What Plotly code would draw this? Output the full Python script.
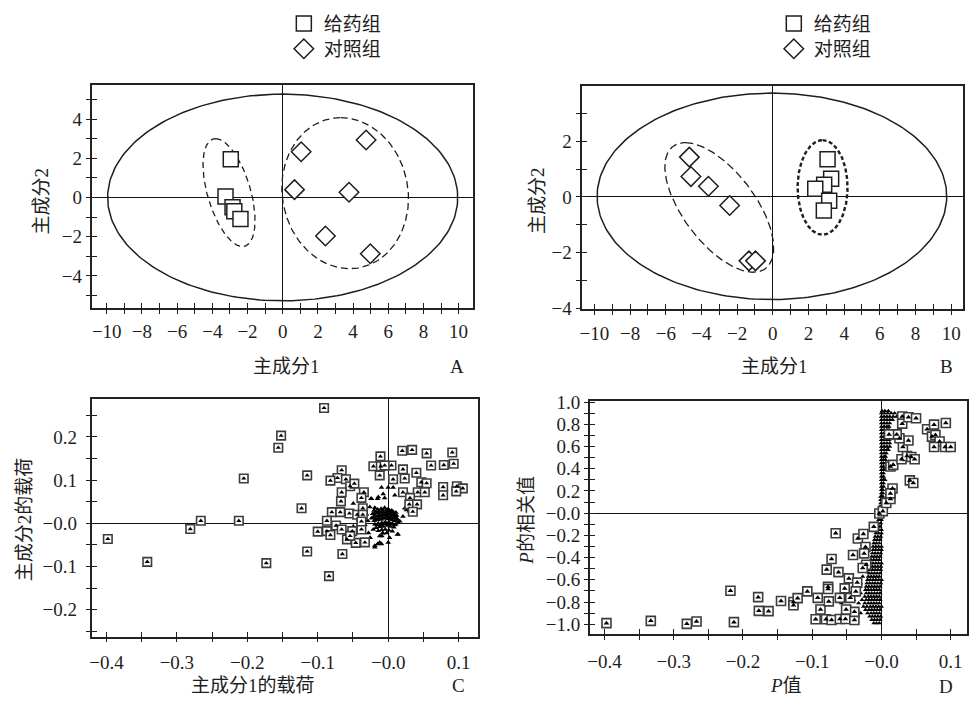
import numpy as np
import plotly.graph_objects as go

W, H = 969, 705
FONT = "Liberation Serif, Noto Sans CJK SC, serif"
INK = "#1e1e1e"

# ---------------- Panel A data ----------------
a_drug_x = [-3.25, -2.95, -2.85, -2.75, -2.40]
a_drug_y = [0.05, 1.95, -0.50, -0.70, -1.10]
a_ctrl_x = [1.05, 4.74, 0.67, 3.77, 2.43, 4.98]
a_ctrl_y = [2.33, 2.93, 0.40, 0.27, -1.96, -2.87]
# ellipses: x = cx + xc*cos t + xs*sin t ; y = cy + yc*cos t
a_ell_cx = [0.0, -3.05, 3.55]
a_ell_cy = [0.0, 0.25, 0.22]
a_ell_xc = [0.0, -0.76, -0.25]
a_ell_xs = [9.95, 1.27, 3.59]
a_ell_yc = [5.27, 2.75, 3.85]

# ---------------- Panel B data ----------------
b_drug_x = [3.07, 3.27, 2.88, 2.38, 3.16, 2.86]
b_drug_y = [1.35, 0.65, 0.44, 0.29, -0.14, -0.49]
b_ctrl_x = [-4.68, -4.59, -3.61, -2.42, -1.34, -0.97]
b_ctrl_y = [1.43, 0.73, 0.38, -0.31, -2.30, -2.30]
b_ell_cx = [-0.05, -3.00, 2.79]
b_ell_cy = [0.02, -0.38, 0.34]
b_ell_xc = [0.0, -1.91, 0.0]
b_ell_xs = [9.80, 2.38, 1.40]
b_ell_yc = [3.71, 2.33, 1.70]

# ---------------- Panel C data ----------------
c_box_x = [-0.398, -0.342, -0.281, -0.266, -0.212, -0.205, -0.152, -0.156, -0.173, -0.091,
           -0.115, -0.123, -0.115, -0.084, -0.065,
           -0.066, -0.072, -0.082, -0.060, -0.054, -0.048, -0.066, -0.067, -0.0345, -0.038,
           -0.080, -0.068, -0.055, -0.044, -0.036, -0.036, -0.087, -0.074, -0.100, -0.087,
           -0.082, -0.066, -0.051, -0.038, -0.0585, -0.046, -0.033, -0.054, -0.038,
           -0.011, -0.021, -0.0105, 0.0047, -0.005, -0.012, 0.007, 0.021, 0.034, 0.020,
           0.0235, 0.040, 0.0546, 0.061, 0.091, 0.079, 0.093, 0.021, 0.047, 0.0546,
           0.042, 0.052, 0.031, 0.030, 0.041, 0.035, 0.078, 0.078, 0.0975, 0.106, 0.0966]
c_box_y = [-0.036, -0.089, -0.013, 0.006, 0.006, 0.104, 0.203, 0.175, -0.092, 0.267,
           0.111, 0.035, -0.065, -0.122, -0.071,
           0.123, 0.105, 0.099, 0.102, 0.086, 0.092, 0.072, 0.051, 0.072, 0.059,
           0.026, 0.026, 0.023, 0.020, 0.035, 0.020, 0.006, -0.005, -0.019, -0.018,
           -0.027, -0.014, -0.018, -0.014, -0.037, -0.045, -0.044, -0.029, 0.0045,
           0.155, 0.132, 0.132, 0.134, 0.134, 0.111, 0.102, 0.125, 0.170, 0.168,
           0.104, 0.117, 0.162, 0.134, 0.164, 0.135, 0.138, 0.072, 0.095, 0.093,
           0.072, 0.072, 0.059, 0.044, 0.044, 0.027, 0.084, 0.065, 0.086, 0.081, 0.074]
c_tri_x = [-0.0095, 0.0, 0.0071, -0.0236, -0.015, -0.005, 0.0094, -0.0071, -0.026, -0.019,
           -0.0307, -0.0377, -0.042, -0.0236, -0.033, -0.0212, -0.028, -0.012, -0.0075, 0.002,
           0.014, -0.019, -0.015, -0.012, 0.0, 0.028, 0.0235, 0.030, 0.021, 0.0165,
           0.028, -0.0495, -0.052, -0.0246, -0.014, -0.019, -0.0095, 0.0132, -0.0415, -0.029,
           -0.0495, -0.0255, 0.026, 0.040, -0.009,
           -0.020, -0.015, -0.010, -0.005, 0.000, 0.005,
           -0.022, -0.017, -0.012, -0.007, -0.002, 0.003, 0.008, 0.012,
           -0.021, -0.016, -0.011, -0.006, -0.001, 0.004, 0.009, 0.013,
           -0.020, -0.015, -0.010, -0.005, 0.000, 0.005, 0.010, 0.014,
           -0.019, -0.014, -0.009, -0.004, 0.001, 0.006, 0.011,
           -0.017, -0.012, -0.007, -0.002, 0.003, 0.008,
           -0.014, -0.009, -0.004, 0.001, 0.006, -0.008, -0.002,
           -0.018, -0.013, -0.008, -0.003, 0.002, 0.007, 0.011,
           -0.0175, -0.0125, -0.0075, -0.0025, 0.0025, 0.0075, 0.012,
           -0.016, -0.011, -0.006, -0.001, 0.004, 0.009,
           -0.019, -0.013, -0.008, -0.003, 0.002, 0.007, 0.010]
c_tri_y = [0.083, 0.083, 0.083, 0.057, 0.057, 0.059, 0.065, 0.068, 0.038, 0.036,
           0.021, 0.027, 0.008, 0.012, -0.003, -0.014, -0.022, -0.029, -0.022, -0.033,
           -0.025, -0.052, -0.048, -0.044, -0.044, 0.053, 0.035, 0.028, 0.016, 0.005,
           0.068, 0.046, 0.0196, 0.057, 0.061, -0.055, -0.048, -0.0255, 0.0135, 0.006,
           -0.007, -0.033, 0.031, 0.072, -0.029,
           0.030, 0.032, 0.034, 0.036, 0.033, 0.030,
           0.022, 0.024, 0.025, 0.027, 0.026, 0.024, 0.022, 0.018,
           0.014, 0.016, 0.017, 0.019, 0.018, 0.016, 0.014, 0.010,
           0.006, 0.008, 0.009, 0.011, 0.010, 0.008, 0.006, 0.002,
           -0.002, 0.000, 0.001, 0.003, 0.002, 0.000, -0.002,
           -0.010, -0.008, -0.007, -0.005, -0.007, -0.009,
           -0.017, -0.015, -0.014, -0.016, -0.018, -0.023, -0.022,
           0.026, 0.028, 0.030, 0.031, 0.029, 0.027, 0.025,
           0.010, 0.012, 0.013, 0.014, 0.013, 0.011, 0.009,
           -0.004, -0.003, -0.001, -0.001, -0.002, -0.004,
           0.018, 0.020, 0.021, 0.022, 0.021, 0.019, 0.016]

# ---------------- Panel D data ----------------
d_box_x = [-0.397, -0.333, -0.281, -0.267, -0.218, -0.213, -0.178, -0.177, -0.163, -0.145,
           -0.127, -0.127, -0.121, -0.107, -0.092, -0.095, -0.088, -0.080, -0.072, -0.060,
           -0.052, -0.039, -0.039, -0.051, -0.077, -0.077, -0.076, -0.060, -0.079, -0.062,
           -0.072, -0.066, -0.053, -0.047, -0.045, -0.035, -0.037, -0.041, -0.034, -0.026,
           -0.023, -0.025, -0.022, -0.027, -0.011, -0.003,
           0.002, 0.007, 0.013, 0.016, 0.013, 0.013, 0.017, 0.029, 0.037, 0.043,
           0.048, 0.031, 0.039, 0.026, 0.022, 0.011, 0.030, 0.030, 0.039, 0.050,
           0.041, 0.046, 0.066, 0.076, 0.073, 0.078, 0.084, 0.076, 0.092, 0.100, 0.093]
d_box_y = [-0.990, -0.969, -0.996, -0.975, -0.698, -0.981, -0.756, -0.879, -0.882, -0.791,
           -0.800, -0.829, -0.765, -0.704, -0.762, -0.955, -0.867, -0.955, -0.961, -0.952,
           -0.952, -0.961, -0.888, -0.867, -0.663, -0.683, -0.794, -0.762, -0.508, -0.531,
           -0.412, -0.181, -0.677, -0.587, -0.762, -0.625, -0.704, -0.377, -0.228, -0.187,
           -0.304, -0.362, -0.464, -0.493, -0.123, -0.003,
           0.018, 0.091, 0.128, 0.222, 0.178, 0.420, 0.435, 0.485, 0.514, 0.505,
           0.485, 0.596, 0.654, 0.674, 0.709, 0.709, 0.870, 0.806, 0.864, 0.855,
           0.295, 0.272, 0.756, 0.797, 0.689, 0.704, 0.645, 0.596, 0.596, 0.596, 0.812]
# dense band of small triangles: (P correlation value, [P values])
d_band_rows = [
    (0.92, [0.001, 0.005, 0.010]),
    (0.90, [0.0, 0.004, 0.009, 0.014, 0.019]),
    (0.87, [0.0, 0.004, 0.008, 0.012, 0.017, 0.022]),
    (0.84, [0.0, 0.004, 0.008, 0.012, 0.016]),
    (0.81, [0.0, 0.004, 0.008, 0.012]),
    (0.78, [0.0, 0.004, 0.008, 0.011]),
    (0.75, [0.0, 0.004, 0.008, 0.011]),
    (0.72, [0.0, 0.004, 0.008, 0.010]),
    (0.69, [0.0, 0.004, 0.008]),
    (0.66, [0.0, 0.004, 0.008, 0.011]),
    (0.63, [0.0, 0.004, 0.008, 0.012]),
    (0.60, [0.0, 0.004, 0.008, 0.012]),
    (0.57, [0.0, 0.004, 0.008, 0.010]),
    (0.54, [0.0, 0.004, 0.007]),
    (0.51, [0.0, 0.004, 0.006]),
    (0.48, [0.0, 0.003, 0.006]),
    (0.45, [0.0, 0.003, 0.006]),
    (0.42, [0.0, 0.003]),
    (0.39, [0.0, 0.003, 0.005]),
    (0.36, [0.0, 0.003]),
    (0.33, [0.0, 0.003]),
    (0.30, [0.0, 0.003, 0.005]),
    (0.27, [0.0, 0.003]),
    (0.24, [0.0, 0.003]),
    (0.21, [0.0, 0.002]),
    (0.18, [0.0, 0.002]),
    (0.15, [-0.001, 0.002]),
    (0.12, [-0.001, 0.002]),
    (0.09, [-0.001, 0.002]),
    (0.06, [-0.002, 0.001]),
    (0.03, [-0.002, 0.001]),
    (0.00, [-0.003, 0.0]),
    (-0.03, [-0.003, 0.0]),
    (-0.06, [-0.004, 0.0]),
    (-0.09, [-0.005, -0.001]),
    (-0.12, [-0.006, -0.002]),
    (-0.15, [-0.008, -0.004, 0.0]),
    (-0.18, [-0.008, -0.004, 0.0]),
    (-0.21, [-0.009, -0.005, -0.001]),
    (-0.24, [-0.010, -0.006, -0.002]),
    (-0.27, [-0.011, -0.007, -0.003]),
    (-0.30, [-0.012, -0.008, -0.004, 0.0]),
    (-0.33, [-0.012, -0.008, -0.004, 0.0]),
    (-0.36, [-0.013, -0.009, -0.005, -0.001]),
    (-0.39, [-0.014, -0.010, -0.006, -0.002]),
    (-0.42, [-0.015, -0.011, -0.007, -0.003]),
    (-0.45, [-0.016, -0.012, -0.008, -0.004, 0.0]),
    (-0.48, [-0.017, -0.013, -0.009, -0.005, -0.001]),
    (-0.51, [-0.024, -0.017, -0.013, -0.009, -0.005, -0.001]),
    (-0.54, [-0.018, -0.014, -0.010, -0.006, -0.002]),
    (-0.57, [-0.027, -0.019, -0.015, -0.011, -0.007, -0.003]),
    (-0.60, [-0.020, -0.016, -0.012, -0.008, -0.004, 0.0]),
    (-0.63, [-0.030, -0.021, -0.017, -0.013, -0.009, -0.005, -0.001]),
    (-0.66, [-0.022, -0.018, -0.014, -0.010, -0.006, -0.002]),
    (-0.69, [-0.035, -0.023, -0.019, -0.015, -0.011, -0.007, -0.003]),
    (-0.72, [-0.045, -0.030, -0.022, -0.018, -0.014, -0.010, -0.006, -0.002]),
    (-0.75, [-0.052, -0.024, -0.019, -0.015, -0.011, -0.007, -0.003]),
    (-0.78, [-0.040, -0.028, -0.022, -0.018, -0.014, -0.010, -0.006, -0.002]),
    (-0.81, [-0.058, -0.033, -0.024, -0.019, -0.015, -0.011, -0.007, -0.003]),
    (-0.84, [-0.046, -0.026, -0.021, -0.016, -0.012, -0.008, -0.004, 0.0]),
    (-0.87, [-0.036, -0.023, -0.018, -0.014, -0.010, -0.006, -0.002]),
    (-0.90, [-0.030, -0.020, -0.015, -0.011, -0.007, -0.003]),
    (-0.93, [-0.017, -0.013, -0.009, -0.005, -0.001]),
    (-0.96, [-0.014, -0.010, -0.006, -0.002]),
    (-0.99, [-0.011, -0.007, -0.003]),
]
d_tri_x = [x for _, xs in d_band_rows for x in xs]
d_tri_y = [y for y, xs in d_band_rows for _ in xs]

# ---------------- ticks ----------------
ab_x_vals = list(range(-10, 11))
ab_x_text = [("\u2212" + str(-v) if v < 0 else str(v)) if v % 2 == 0 else "" for v in ab_x_vals]
a_y_vals = list(range(-5, 6))
a_y_text = [("\u2212" + str(-v) if v < 0 else str(v)) if v % 2 == 0 else "" for v in a_y_vals]
b_y_vals = list(range(-4, 5))
b_y_text = [("\u2212" + str(-v) if v < 0 else str(v)) if v % 2 == 0 else "" for v in b_y_vals]
cd_x_vals = [-0.40, -0.35, -0.30, -0.25, -0.20, -0.15, -0.10, -0.05, 0.0, 0.05, 0.10]
cd_x_text = ["\u22120.4", "", "\u22120.3", "", "\u22120.2", "", "\u22120.1", "", "\u22120.0", "", "0.1"]
c_y_vals = [-0.25, -0.20, -0.15, -0.10, -0.05, 0.0, 0.05, 0.10, 0.15, 0.20, 0.25]
c_y_text = ["", "\u22120.2", "", "\u22120.1", "", "\u22120.0", "", "0.1", "", "0.2", ""]
d_y_vals = [-1.0, -0.9, -0.8, -0.7, -0.6, -0.5, -0.4, -0.3, -0.2, -0.1, 0.0,
            0.1, 0.2, 0.3, 0.4, 0.5, 0.6, 0.7, 0.8, 0.9, 1.0]
d_y_text = ["\u22121.0", "", "\u22120.8", "", "\u22120.6", "", "\u22120.4", "", "\u22120.2", "", "\u22120.0",
            "", "0.2", "", "0.4", "", "0.6", "", "0.8", "", "1.0"]


def px(x):
    return x / W


def py(y):
    return 1 - y / H


def ellipse(cx, cy, xc, xs, yc):
    t = np.linspace(0, 2 * np.pi, 241)
    return cx + xc * np.cos(t) + xs * np.sin(t), cy + yc * np.cos(t)


sq_marker = dict(symbol="square", size=15, color="white", line=dict(color=INK, width=1.5))
dm_marker = dict(symbol="diamond", size=15, color="white", line=dict(color=INK, width=1.5))

fig = go.Figure()

# --- A ---
ell_styles_a = [dict(dash="solid", width=1.5), dict(dash="6px,4px", width=1.3), dict(dash="7px,4px", width=1.3)]
for i in range(3):
    ex, ey = ellipse(a_ell_cx[i], a_ell_cy[i], a_ell_xc[i], a_ell_xs[i], a_ell_yc[i])
    fig.add_trace(go.Scatter(x=ex, y=ey, mode="lines", line=dict(color=INK, **ell_styles_a[i]),
                             showlegend=False, hoverinfo="skip", xaxis="x", yaxis="y"))
fig.add_trace(go.Scatter(x=a_drug_x, y=a_drug_y, mode="markers", name="给药组", marker=sq_marker,
                         xaxis="x", yaxis="y", legend="legend"))
fig.add_trace(go.Scatter(x=a_ctrl_x, y=a_ctrl_y, mode="markers", name="对照组", marker=dm_marker,
                         xaxis="x", yaxis="y", legend="legend3"))

# --- B ---
ell_styles_b = [dict(dash="solid", width=1.5), dict(dash="8px,4px", width=1.3), dict(dash="4px,2.5px", width=2.4)]
for i in range(3):
    ex, ey = ellipse(b_ell_cx[i], b_ell_cy[i], b_ell_xc[i], b_ell_xs[i], b_ell_yc[i])
    fig.add_trace(go.Scatter(x=ex, y=ey, mode="lines", line=dict(color=INK, **ell_styles_b[i]),
                             showlegend=False, hoverinfo="skip", xaxis="x2", yaxis="y2"))
fig.add_trace(go.Scatter(x=b_ctrl_x, y=b_ctrl_y, mode="markers", name="对照组", marker=dm_marker,
                         xaxis="x2", yaxis="y2", legend="legend4"))
fig.add_trace(go.Scatter(x=b_drug_x, y=b_drug_y, mode="markers", name="给药组", marker=sq_marker,
                         xaxis="x2", yaxis="y2", legend="legend2"))

# --- C ---
fig.add_trace(go.Scatter(x=c_tri_x, y=c_tri_y, mode="markers", showlegend=False, hoverinfo="skip",
                         marker=dict(symbol="triangle-up", size=5, color="black", line=dict(width=0)),
                         xaxis="x3", yaxis="y3"))
fig.add_trace(go.Scatter(x=c_box_x, y=c_box_y, mode="markers", showlegend=False,
                         marker=dict(symbol="square", size=8.5, color="white", line=dict(color="#3c3c3c", width=1.6)),
                         xaxis="x3", yaxis="y3"))
fig.add_trace(go.Scatter(x=c_box_x, y=c_box_y, mode="markers", showlegend=False, hoverinfo="skip",
                         marker=dict(symbol="triangle-up", size=4.5, color="black", line=dict(width=0)),
                         xaxis="x3", yaxis="y3"))

# --- D ---
fig.add_trace(go.Scatter(x=d_tri_x, y=d_tri_y, mode="markers", showlegend=False, hoverinfo="skip",
                         marker=dict(symbol="triangle-up", size=4.5, color="black", line=dict(width=0)),
                         xaxis="x4", yaxis="y4"))
fig.add_trace(go.Scatter(x=d_box_x, y=d_box_y, mode="markers", showlegend=False,
                         marker=dict(symbol="square", size=9, color="white", line=dict(color="#3c3c3c", width=1.6)),
                         xaxis="x4", yaxis="y4"))
fig.add_trace(go.Scatter(x=d_box_x, y=d_box_y, mode="markers", showlegend=False, hoverinfo="skip",
                         marker=dict(symbol="triangle-up", size=5, color="black", line=dict(width=0)),
                         xaxis="x4", yaxis="y4"))

# overlay empty traces (for ticks that cross the axis line)
for i in range(1, 5):
    fig.add_trace(go.Scatter(x=[], y=[], xaxis=f"x{i+4}", yaxis=f"y{i}" if i > 1 else "y",
                             showlegend=False, hoverinfo="skip"))
    fig.add_trace(go.Scatter(x=[], y=[], xaxis=f"x{i}" if i > 1 else "x", yaxis=f"y{i+4}",
                             showlegend=False, hoverinfo="skip"))

tickfont = dict(family=FONT, size=19, color=INK)


def main_axis(domain, rng, vals, text, anchor, standoff):
    return dict(domain=domain, range=rng, tickmode="array", tickvals=vals, ticktext=text,
                ticks="outside", ticklen=4, tickwidth=1.3, tickcolor=INK,
                showline=True, mirror=True, linecolor="#222", linewidth=1.6,
                showgrid=False, zeroline=True, zerolinecolor="#111", zerolinewidth=1.4,
                anchor=anchor, tickfont=tickfont, ticklabelstandoff=standoff)


def over_axis(over, anchor, rng, vals):
    return dict(overlaying=over, anchor=anchor, range=rng, tickmode="array", tickvals=vals,
                ticks="inside", ticklen=5, tickwidth=1.3, tickcolor=INK, showticklabels=False,
                showline=False, showgrid=False, zeroline=False)


dom = {
    1: ([px(89), px(472)], [py(307), py(78)]),
    2: ([px(581.7), px(964.3)], [py(308.3), py(79.3)]),
    3: ([px(89), px(477.3)], [py(645), py(400.7)]),
    4: ([px(589.3), px(968.3)], [py(642.7), py(402.7)]),
}
xr = {1: [-10.86, 10.82], 2: [-10.68, 10.68], 3: [-0.421, 0.128], 4: [-0.421, 0.124]}
yr = {1: [-5.62, 5.74], 2: [-4.03, 3.98], 3: [-0.262, 0.288], 4: [-1.091, 1.011]}
xv = {1: (ab_x_vals, ab_x_text), 2: (ab_x_vals, ab_x_text), 3: (cd_x_vals, cd_x_text), 4: (cd_x_vals, cd_x_text)}
yv = {1: (a_y_vals, a_y_text), 2: (b_y_vals, b_y_text), 3: (c_y_vals, c_y_text), 4: (d_y_vals, d_y_text)}
xstand = {1: 2, 2: 2, 3: 4, 4: 5}
ystand = {1: 0, 2: 1, 3: 5, 4: 0}

layout_axes = {}
for i in range(1, 5):
    xn = "xaxis" if i == 1 else f"xaxis{i}"
    yn = "yaxis" if i == 1 else f"yaxis{i}"
    xid = "x" if i == 1 else f"x{i}"
    yid = "y" if i == 1 else f"y{i}"
    layout_axes[xn] = main_axis(dom[i][0], xr[i], xv[i][0], xv[i][1], yid, xstand[i])
    layout_axes[yn] = main_axis(dom[i][1], yr[i], yv[i][0], yv[i][1], xid, ystand[i])
    layout_axes[f"xaxis{i+4}"] = over_axis(xid, yid, xr[i], xv[i][0])
    layout_axes[f"yaxis{i+4}"] = over_axis(yid, xid, yr[i], yv[i][0])

tfont = dict(family=FONT, size=19, color=INK)
ann = [
    (285, 367, "主成分1", 0), (456, 367, "A", 0), (39, 197, "主成分2", -90),
    (775, 367, "主成分1", 0), (947, 367, "B", 0), (536.5, 197, "主成分2", -90),
    (251, 695, "主成分1的载荷", 0), (457.5, 695, "C", 0), (21, 524.5, "主成分2的载荷", -90),
    (786, 695, "<i>P</i>值", 0), (947, 696, "D", 0), (526, 525, "<i>P</i>的相关值", -90),
]
annotations = [dict(x=px(x), y=py(y), xref="paper", yref="paper", text=t, textangle=a,
                    showarrow=False, font=tfont, xanchor="center", yanchor="middle")
               for x, y, t, a in ann]

legend_common = dict(font=dict(family=FONT, size=19, color=INK), bgcolor="rgba(0,0,0,0)",
                     xanchor="left", yanchor="middle", itemwidth=30)

fig.update_layout(
    width=W, height=H, margin=dict(l=0, r=0, t=0, b=0),
    paper_bgcolor="white", plot_bgcolor="white",
    showlegend=True,
    legend=dict(x=px(282), y=py(15), **legend_common),
    legend3=dict(x=px(282), y=py(41), **legend_common),
    legend2=dict(x=px(774), y=py(15), **legend_common),
    legend4=dict(x=px(774), y=py(41), **legend_common),
    annotations=annotations,
    **layout_axes,
)

fig.write_html("out.html")
